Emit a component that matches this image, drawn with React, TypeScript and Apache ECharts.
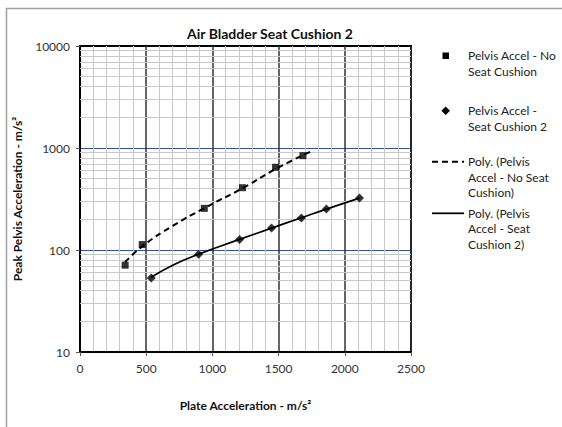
import React, { useEffect, useRef } from "react";
import * as echarts from "echarts";

const noCushionX = [341, 470, 939, 1227, 1477, 1684];
const noCushionY = [71, 113, 256, 408, 647, 841];
const cushion2X = [538, 896, 1205, 1447, 1672, 1861, 2111];
const cushion2Y = [53, 91, 127, 164, 206, 252, 323];

// trend curves
const trendNoX = [340, 480, 700, 940, 1230, 1480, 1740];
const trendNoY = [76, 111, 172, 258, 405, 625, 920];
const trendC2X = [538, 700, 896, 1205, 1447, 1672, 1861, 2111];
const trendC2Y = [54, 71, 91, 127, 164, 207, 252, 323];

const yMinorLines = [20, 30, 40, 50, 60, 70, 80, 90, 200, 300, 400, 500, 600, 700, 800, 900, 2000, 3000, 4000, 5000, 6000, 7000, 8000, 9000];

const legendLabels = [
  ["Pelvis Accel - No", "Seat Cushion"],
  ["Pelvis Accel -", "Seat Cushion 2"],
  ["Poly. (Pelvis", "Accel - No Seat", "Cushion)"],
  ["Poly. (Pelvis", "Accel - Seat", "Cushion 2)"],
];

const FONT = "Lato, 'Open Sans', sans-serif";

const zip = (xs: number[], ys: number[]) => xs.map((x, i) => [x, ys[i]]);

export default function App() {
  const ref = useRef<HTMLDivElement>(null);
  useEffect(() => {
    if (!ref.current) return;
    const chart = echarts.init(ref.current, null, { renderer: "svg" });
    const legendTop = [55.7, 110.7, 161.7, 213.3];
    const graphics: any[] = [
      {
        type: "rect",
        shape: { x: 6.5, y: 8.5, width: 700, height: 600 },
        style: { fill: "none", stroke: "#a0a0a0", lineWidth: 1.5 },
        silent: true,
      },
      {
        type: "rect",
        shape: { x: 442.5, y: 52.5, width: 6.5, height: 6.5 },
        style: { fill: "#000" },
      },
      {
        type: "polygon",
        shape: { points: [[445.7, 106.5], [450, 110.7], [445.7, 115], [441.4, 110.7]] },
        style: { fill: "#000" },
      },
      {
        type: "line",
        shape: { x1: 432, y1: 161.7, x2: 464, y2: 161.7 },
        style: { stroke: "#000", lineWidth: 2, lineDash: [6, 4] },
      },
      {
        type: "line",
        shape: { x1: 432, y1: 213.3, x2: 464, y2: 213.3 },
        style: { stroke: "#000", lineWidth: 1.75 },
      },
    ];
    legendLabels.forEach((lines, i) => {
      lines.forEach((t, j) => {
        graphics.push({
          type: "text",
          x: 468,
          y: legendTop[i] + j * 15.5,
          style: {
            text: t,
            fill: "#222",
            font: `12px ${FONT}`,
            textVerticalAlign: "middle",
            textAlign: "left",
          },
        });
      });
    });

    chart.setOption({
      animation: false,
      backgroundColor: "#fff",
      title: {
        text: "Air Bladder Seat Cushion 2",
        left: 265,
        top: 21,
        textAlign: "center",
        textStyle: { fontFamily: FONT, fontSize: 14, fontWeight: "bold", color: "#111" },
      },
      grid: {
        left: 80,
        right: 151,
        top: 46,
        bottom: 75,
        show: true,
        borderColor: "#000",
        borderWidth: 2,
        backgroundColor: "transparent",
      },
      xAxis: {
        type: "value",
        min: 0,
        max: 2500,
        interval: 500,
        z: 3,
        name: "Plate Acceleration - m/s²",
        nameLocation: "middle",
        nameGap: 47,
        nameTextStyle: { fontFamily: FONT, fontSize: 12, fontWeight: "bold", color: "#111" },
        axisLine: { show: true, onZero: false, lineStyle: { color: "#000", width: 2 } },
        axisTick: { show: true, length: 4, lineStyle: { color: "#555" } },
        axisLabel: { fontFamily: FONT, fontSize: 12, color: "#333", margin: 10, formatter: (v: number) => String(v) },
        splitLine: { show: true, lineStyle: { color: "#333", width: 1.5 } },
        minorTick: { show: false, splitNumber: 5 },
        minorSplitLine: { show: true, lineStyle: { color: "#c8c8c8", width: 1 } },
      },
      yAxis: {
        type: "log",
        logBase: 10,
        min: 10,
        max: 10000,
        z: 3,
        name: "Peak Pelvis Acceleration - m/s²",
        nameLocation: "middle",
        nameGap: 57,
        nameTextStyle: { fontFamily: FONT, fontSize: 12, fontWeight: "bold", color: "#111" },
        axisLine: { show: true, lineStyle: { color: "#000", width: 2 } },
        axisTick: { show: true, length: 4, lineStyle: { color: "#555" } },
        axisLabel: { fontFamily: FONT, fontSize: 12, color: "#333", margin: 10, formatter: (v: number) => String(Math.round(v)) },
        splitLine: { show: true, lineStyle: { color: ["#000", "#2f5597", "#2f5597", "#000"], width: 1.2 } },
      },
      graphic: graphics,
      series: [
        {
          type: "line",
          data: [],
          z: 1,
          silent: true,
          markLine: {
            silent: true,
            symbol: "none",
            label: { show: false },
            lineStyle: { color: "#c8c8c8", width: 1, type: "solid" },
            data: yMinorLines.map((v) => ({ yAxis: v })),
          },
        },
        {
          name: "Poly. (Pelvis Accel - No Seat Cushion)",
          type: "line",
          z: 5,
          smooth: true,
          showSymbol: false,
          data: zip(trendNoX, trendNoY),
          lineStyle: { color: "#000", width: 2, type: [6, 4] },
        },
        {
          name: "Poly. (Pelvis Accel - Seat Cushion 2)",
          type: "line",
          z: 5,
          smooth: true,
          showSymbol: false,
          data: zip(trendC2X, trendC2Y),
          lineStyle: { color: "#000", width: 1.75 },
        },
        {
          name: "Pelvis Accel - No Seat Cushion",
          type: "scatter",
          z: 6,
          symbol: "rect",
          symbolSize: 7,
          itemStyle: { color: "#000" },
          data: zip(noCushionX, noCushionY),
        },
        {
          name: "Pelvis Accel - Seat Cushion 2",
          type: "scatter",
          z: 6,
          symbol: "diamond",
          symbolSize: 9,
          itemStyle: { color: "#000" },
          data: zip(cushion2X, cushion2Y),
        },
      ],
    });
    return () => chart.dispose();
  }, []);
  return (
    <div
      ref={ref}
      style={{ position: "fixed", left: 0, top: 0, width: 562, height: 427 }}
    />
  );
}
